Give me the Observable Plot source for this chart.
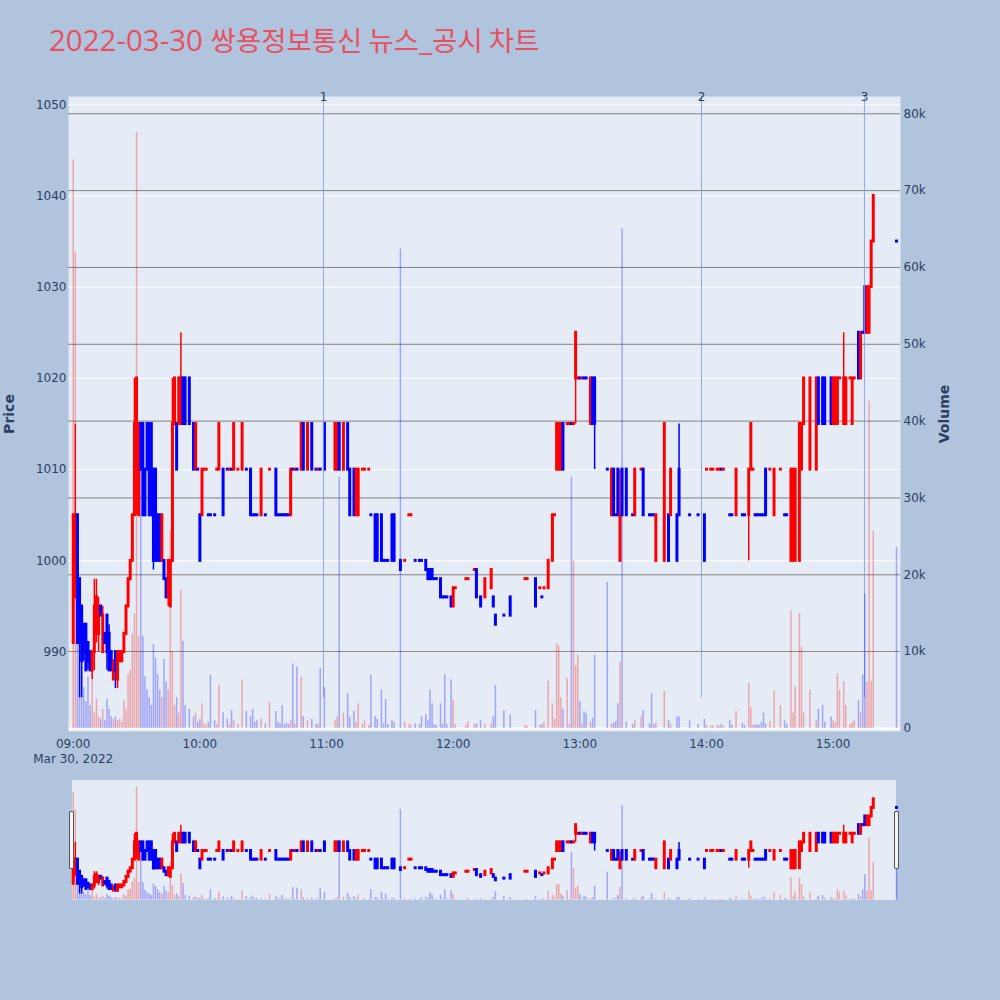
<!DOCTYPE html>
<html>
<head>
<meta charset="utf-8">
<script src="https://cdn.jsdelivr.net/npm/d3@7"></script>
<script src="https://cdn.jsdelivr.net/npm/@observablehq/plot@0.6"></script>
<style>
html, body { margin: 0; padding: 0; background: #b0c4de; width: 1000px; height: 1000px; overflow: hidden; }
#wrap { position: relative; width: 1000px; height: 1000px; }
.layer { position: absolute; left: 0; }
.layer svg { display: block; }
#title { position: absolute; left: 49px; top: 19px; line-height: 40px; font-family: "Open Sans", sans-serif; font-size: 29.5px; color: #e9505f; white-space: nowrap; }
#title .ko { font-family: "Noto Sans CJK KR", sans-serif; font-size: 27.5px; }
.sliderbg { position: absolute; left: 72px; top: 780px; width: 824px; height: 120px; background: #e5ecf6; }
.handle { position: absolute; top: 811px; width: 5px; height: 58px; background: #f4f4f4; border: 1px solid #555; border-radius: 1px; box-sizing: border-box; }
</style>
</head>
<body>
<div id="wrap">
  <div id="title"><span>2022-03-30</span> <span class="ko">쌍용정보통신 뉴스</span><span>_</span><span class="ko">공시 차트</span></div>
</div>
<script>
// ---- data: [minute of hour, open, high, low, close, volume, (flat candle: 1 = up colour, 0 = down colour)]
const h09 = [
[0,991,1005,991,1005,74000],[1,996,1015,996,1005,62000],[2,1005,1005,991,991,12000],[3,998,998,985,991,8400],
[4,995,995,985,989,8000],[5,993,993,989,990,5300],[6,993,993,988,988,3500],[7,991,991,988,989,6700],
[8,990,990,988,988,3000],[9,988,990,987,990,7000],[10,990,998,988,995,2000],[11,992,998,991,996,3800],
[12,992,996,990,995,1500],[13,995,995,994,994,1200],[14,990,995,990,994,2500],[15,992,992,991,991,1000],
[16,994,994,988,990,3800],[17,992,993,988,988,2500],[18,990,990,988,988,1500],[19,987,989,987,989,1200],
[20,990,990,986,988,1500],[21,987,990,986,990,1000],[22,989,990,989,990,1200],[23,989,990,989,990,800],
[24,990,992,990,992,3600],[25,992,995,992,995,2500],[26,995,998,995,998,7000],[27,998,1000,998,1000,7500],
[28,1000,1005,1000,1005,12300],[29,1005,1020,1005,1015,14900],[30,1010,1020,1005,1020,77600],[31,1005,1015,1005,1015,12000],
[32,1015,1015,1010,1010,38000],[33,1015,1015,1005,1005,12000],[34,1010,1010,1005,1005,6700],[35,1015,1015,1010,1010,5000],
[36,1015,1015,1005,1005,4000],[37,1015,1015,1005,1005,3000],[38,1010,1010,999,1000,10900],[39,1010,1010,1000,1000,9100],
[40,1005,1005,1000,1000,7000],[41,1005,1005,1000,1000,5000],[42,1000,1005,1000,1005,4000],[43,1000,1000,998,998,9000],
[44,998,998,996,996,6000],[45,996,1000,995,1000,5000],[46,995,1000,995,1000,25700],[47,1000,1020,1000,1015,10000],
[48,1015,1020,1015,1020,3000],[49,1015,1015,1010,1010,4000],[50,1015,1020,1015,1020,2000],[51,1015,1025,1015,1020,18000],
[52,1020,1020,1015,1015,11300],[53,1020,1020,1015,1015,3000],[55,1020,1020,1015,1015,2500],[57,1015,1015,1010,1010,1500],
[58,1010,1015,1010,1015,2000],[59,1010,1010,1010,1010,800,0]
];
const h10 = [
[0,1005,1005,1000,1000,1200],[1,1005,1010,1005,1010,3200],[2,1010,1010,1010,1010,600,1],[3,1010,1010,1010,1010,400,1],
[4,1005,1005,1005,1005,800,0],[5,1005,1005,1005,1005,6900,0],[7,1005,1005,1005,1005,1000,0],[8,1010,1010,1010,1010,500,1],
[9,1010,1015,1010,1015,5600],[11,1010,1010,1005,1005,2000],[13,1010,1010,1010,1010,1200,0],[14,1010,1010,1010,1010,500,1],
[15,1010,1010,1010,1010,2300,0],[16,1010,1015,1010,1015,1000],[18,1010,1010,1010,1010,500,1],[20,1010,1015,1010,1015,6300],
[22,1010,1010,1010,1010,2200,0],[24,1010,1010,1005,1005,1500],[25,1005,1005,1005,1005,2500,0],[26,1005,1005,1005,1005,800,0],
[27,1005,1005,1005,1005,1000,0],[29,1005,1010,1005,1010,1200],[31,1005,1005,1005,1005,600,0],[33,1010,1010,1010,1010,3400,1],
[36,1010,1010,1005,1005,2200],[37,1005,1005,1005,1005,800,0],[38,1005,1005,1005,1005,600,0],[39,1005,1005,1005,1005,3000,0],
[40,1005,1005,1005,1005,500,0],[41,1005,1005,1005,1005,700,0],[42,1005,1005,1005,1005,500,0],[43,1005,1010,1005,1010,1000],
[44,1010,1010,1010,1010,8400,0],[45,1010,1010,1010,1010,600,1],[46,1010,1010,1010,1010,8000,0],[48,1010,1015,1010,1015,6700],
[49,1015,1015,1010,1010,1500],[51,1010,1015,1010,1015,1000],[53,1015,1015,1010,1010,1200],[55,1010,1010,1010,1010,500,0],
[56,1010,1010,1010,1010,600,1],[57,1010,1010,1010,1010,7800,0],[59,1015,1015,1010,1010,5300]
];
const h11 = [
[4,1010,1015,1010,1015,1000],[5,1010,1015,1010,1015,1500],[6,1015,1015,1010,1010,32700],[8,1010,1015,1010,1015,2000],
[10,1015,1015,1010,1010,4500],[11,1010,1010,1005,1005,1500],[13,1010,1010,1005,1005,2200],[14,1005,1010,1005,1010,800],
[15,1005,1010,1005,1010,3200],[17,1010,1010,1010,1010,500,1],[18,1010,1010,1010,1010,1000,1],[20,1010,1010,1010,1010,400,1],
[21,1005,1005,1005,1005,7000,0],[23,1005,1005,1000,1000,1500],[24,1005,1005,1000,1000,1200],[26,1005,1005,1000,1000,5000],
[27,1000,1000,1000,1000,600,0],[28,1000,1000,1000,1000,3800,0],[29,1000,1000,1000,1000,500,0],[31,1005,1005,1000,1000,1000],
[32,1005,1005,1000,1000,800],[35,1000,1000,999,999,62400],[37,1000,1000,1000,1000,800,1],[39,1005,1005,1005,1005,500,1],
[40,1005,1005,1005,1005,400,1],[42,1000,1000,1000,1000,600,0],[44,1000,1000,1000,1000,500,0],[45,1000,1000,1000,1000,1500,0],
[47,1000,1000,999,999,1800],[48,999,999,998,998,1000],[49,999,999,998,998,5000],[50,999,999,998,998,3200],
[51,998,998,998,998,500,0],[52,998,998,998,998,400,0],[54,998,998,996,996,3200],[55,996,996,996,996,600,0],
[56,996,996,996,996,7000,0],[57,996,996,996,996,500,0],[59,996,996,995,995,6300]
];
const h12 = [
[0,995,997,995,997,3700],[1,997,997,997,997,500,1],[6,998,998,998,998,400,1],[7,998,998,998,998,900,1],
[10,999,999,999,999,500,1],[11,999,999,996,996,600],[13,996,996,995,995,1000],[15,996,998,996,998,500],
[18,997,999,997,999,600],[19,996,996,995,995,1500],[20,994,994,993,993,5600],[24,994,994,994,994,2300,0],
[27,996,996,994,994,1700],[34,998,998,998,998,400,1],[35,998,998,998,998,300,1],[39,998,998,995,995,2300],
[41,997,997,997,997,400,1],[42,996,996,996,996,500,0],[43,997,997,997,997,800,1],[45,997,1000,997,1000,6200],
[47,1000,1005,1000,1005,3200],[48,1005,1005,1005,1005,1200,1],[49,1010,1015,1010,1015,11000],[50,1010,1015,1010,1015,10700],
[51,1010,1015,1010,1015,4000],[52,1015,1015,1010,1010,2500],[54,1015,1015,1015,1015,6500,1],[55,1015,1015,1015,1015,500,1],
[56,1015,1015,1015,1015,32700,0],[57,1015,1015,1015,1015,21800,1],[58,1020,1025,1015,1025,8200],[59,1020,1020,1020,1020,9500,1]
];
const h13 = [
[0,1020,1020,1020,1020,3500,0],[1,1020,1020,1020,1020,600,1],[2,1020,1020,1020,1020,2100,0],[3,1020,1020,1020,1020,1900,0],
[5,1015,1020,1015,1020,800],[6,1020,1020,1015,1015,1300],[7,1020,1020,1010,1015,9500],[13,1010,1010,1010,1010,19000,0],
[15,1005,1010,1005,1010,600],[16,1010,1010,1005,1005,700],[17,1005,1005,1005,1005,900,0],[18,1010,1010,1005,1005,3200],
[19,1000,1010,1000,1005,8600],[20,1010,1010,1005,1005,65000],[22,1010,1010,1005,1005,800],[25,1005,1005,1005,1005,500,0],
[26,1005,1010,1005,1010,1000],[29,1010,1010,1010,1010,1500,1],[30,1010,1010,1005,1005,2300],[33,1005,1005,1005,1005,600,0],
[34,1005,1005,1005,1005,4500,0],[35,1005,1005,1005,1005,500,0],[36,1000,1005,1000,1005,700],[40,1000,1015,1000,1015,4800],
[42,1005,1005,1000,1000,1000],[43,1005,1010,1005,1010,500],[46,1005,1005,1000,1000,1500],[47,1010,1015,1005,1005,1500],
[52,1005,1005,1005,1005,1000,0],[56,1005,1005,1005,1005,500,0],[59,1005,1005,1000,1000,1200]
];
const h14 = [
[0,1010,1010,1010,1010,400,1],[2,1010,1010,1010,1010,300,1],[3,1010,1010,1010,1010,300,1],[5,1010,1010,1010,1010,400,1],
[6,1010,1010,1010,1010,300,1],[7,1010,1010,1010,1010,500,0],[8,1010,1010,1010,1010,300,1],[11,1005,1005,1005,1005,1000,0],
[12,1005,1005,1005,1005,400,0],[14,1005,1010,1005,1010,2200],[17,1005,1005,1005,1005,700,0],[18,1005,1005,1005,1005,400,0],
[20,1005,1010,1000,1010,5900],[21,1010,1015,1010,1015,2700],[22,1010,1010,1010,1010,400,1],[23,1005,1005,1005,1005,400,0],
[24,1005,1005,1005,1005,500,0],[25,1005,1005,1005,1005,400,0],[26,1005,1005,1005,1005,800,0],[27,1005,1005,1005,1005,2000,0],
[28,1010,1010,1005,1005,600],[30,1010,1010,1010,1010,900,1],[32,1005,1010,1005,1010,4900],[35,1010,1010,1010,1010,3000,1],
[37,1005,1005,1005,1005,1000,0],[38,1005,1005,1005,1005,500,0],[40,1000,1010,1000,1010,15300],[41,1000,1010,1000,1010,2000],
[42,1000,1010,1000,1010,5400],[44,1000,1015,1000,1015,14900],[45,1010,1015,1010,1015,10600],[46,1015,1020,1015,1020,2000],
[49,1010,1020,1010,1020,5000],[52,1010,1020,1010,1020,1000],[53,1020,1020,1015,1015,2500],[55,1020,1020,1015,1015,3000],
[56,1020,1020,1015,1015,800],[59,1020,1020,1015,1015,1500]
];
const h15 = [
[0,1015,1020,1015,1020,1000],[1,1015,1020,1015,1020,700],[2,1015,1020,1015,1020,7100],[3,1020,1020,1020,1020,5000,1],
[5,1015,1025,1015,1020,6100],[6,1015,1020,1015,1020,3000],[8,1020,1020,1020,1020,500,1],[9,1015,1020,1015,1020,800],
[10,1020,1020,1020,1020,1000,1],[12,1025,1025,1020,1020,3600],[13,1020,1025,1020,1025,2000],[14,1025,1025,1025,1025,7000,0],
[15,1030,1030,1025,1025,17500],[16,1025,1030,1025,1030,6000],[17,1025,1030,1025,1030,42600],[18,1030,1035,1030,1035,6100],
[19,1035,1040,1035,1040,25700],[30,1035,1035,1035,1035,23600,0]
];
const hourBlocks = [[9, h09], [10, h10], [11, h11], [12, h12], [13, h13], [14, h14], [15, h15]];

const priceTicks = [990, 1000, 1010, 1020, 1030, 1040, 1050];
const volumeTicks = [0, 10000, 20000, 30000, 40000, 50000, 60000, 70000, 80000];
const timeTickLabels = ["09:00", "10:00", "11:00", "12:00", "13:00", "14:00", "15:00"];
const dateLabel = "Mar 30, 2022";
const newsTimes = ["10:58:34", "13:57:38", "15:14:50"];
const newsLabels = ["1", "2", "3"];

// axis ranges
const timeRange = ["08:57:46", "15:31:54"];
const priceRange = [981.3, 1050.9];
const volumeRange = [-400, 82250];

// ---- build
const at = (s) => { const [h, m, sec = 0] = s.split(":").map(Number); return new Date(Date.UTC(2022, 2, 30, h, m, sec)); };
const UP = "#ff0000", DOWN = "#0000ff";
const rows = hourBlocks.flatMap(([h, arr]) => arr.map(r => {
  const up = r[4] > r[1] || (r[4] === r[1] && r[6] === 1);
  return {t: new Date(Date.UTC(2022, 2, 30, h, r[0])), open: r[1], high: r[2], low: r[3], close: r[4], vol: r[5],
          lo: Math.min(r[1], r[4]), hi: Math.max(r[1], r[4]), color: up ? UP : DOWN};
}));
const xTicks = timeTickLabels.map(at);
const news = newsTimes.map((s, i) => ({t: at(s), label: newsLabels[i]}));
const minLow = d3.min(rows, d => d.low);

const wrap = document.getElementById("wrap");
const baseStyle = {background: "transparent", fontFamily: "'DejaVu Sans', Verdana, sans-serif", fontSize: "12px", color: "#2a3f5f", overflow: "visible"};
const mainM = {width: 1000, height: 770, marginLeft: 68, marginRight: 100, marginTop: 96, marginBottom: 39};
const sliderM = {width: 1000, height: 120, marginLeft: 68, marginRight: 100, marginTop: 0, marginBottom: 0};
const xOpt = {type: "utc", domain: timeRange.map(at)};

function layer(opts, top) {
  const el = Plot.plot({...opts, style: baseStyle, color: {type: "identity"}});
  const d = document.createElement("div");
  d.className = "layer";
  d.style.top = top + "px";
  d.append(el);
  wrap.append(d);
}

const candleMarks = () => [
  Plot.ruleX(rows, {x: "t", y1: "low", y2: "high", stroke: "color", strokeWidth: 1.5}),
  Plot.ruleX(rows, {x: "t", y1: "lo", y2: "hi", stroke: "color", strokeWidth: 3, strokeLinecap: "square"})
];
const volumeMarks = () => [
  Plot.ruleX(rows, {x: "t", y1: 0, y2: "vol", stroke: "color", strokeOpacity: 0.3, strokeWidth: 1.5})
];

// layer 1: background, price grid, left & bottom axes
layer({...mainM, x: xOpt, y: {domain: priceRange},
  marks: [
    Plot.frame({fill: "#e5ecf6", stroke: "none"}),
    Plot.gridY(priceTicks, {stroke: "#ffffff", strokeOpacity: 1, strokeWidth: 1}),
    Plot.axisY(priceTicks, {anchor: "left", tickSize: 0, tickPadding: 2, label: null, tickFormat: d => String(d)}),
    Plot.axisY({anchor: "left", ticks: [], label: "Price", labelAnchor: "center", labelArrow: "none", labelOffset: 64, fontWeight: "bold", fontSize: 14}),
    Plot.axisX(xTicks, {tickSize: 0, tickPadding: 5, label: null, lineHeight: 1.3,
      tickFormat: d => (+d === +xTicks[0] ? d3.utcFormat("%H:%M")(d) + "\n" + dateLabel : d3.utcFormat("%H:%M")(d))})
  ]}, 0);

// layer 2: volume grid and right axis
layer({...mainM, x: {...xOpt, axis: null}, y: {domain: volumeRange},
  marks: [
    Plot.gridY(volumeTicks.filter(v => v > 0), {stroke: "#808080", strokeOpacity: 1, strokeWidth: 1}),
    Plot.ruleY([0], {stroke: "#ffffff", strokeWidth: 2}),
    Plot.axisY(volumeTicks, {anchor: "right", tickSize: 0, tickPadding: 3, label: null,
      tickFormat: v => v === 0 ? "0" : (v / 1000) + "k"}),
    Plot.axisY({anchor: "right", ticks: [], label: "Volume", labelAnchor: "center", labelArrow: "none", labelOffset: 48, fontWeight: "bold", fontSize: 14})
  ]}, 0);

// layer 3: candles + news markers
layer({...mainM, x: {...xOpt, axis: null}, y: {domain: priceRange, axis: null},
  marks: [
    ...candleMarks(),
    Plot.ruleX(news, {x: "t", y1: minLow, y2: priceRange[1], stroke: "#7f9cf0", strokeOpacity: 0.85, strokeWidth: 1}),
    Plot.text(news, {x: "t", text: "label", frameAnchor: "top", lineAnchor: "middle", dy: 1, fill: "#2a3f5f", fontSize: 12})
  ]}, 0);

// layer 4: volume bars
layer({...mainM, x: {...xOpt, axis: null}, y: {domain: volumeRange, axis: null},
  marks: volumeMarks()}, 0);

// range slider
const bg = document.createElement("div"); bg.className = "sliderbg"; wrap.append(bg);
layer({...sliderM, x: {...xOpt, axis: null}, y: {domain: priceRange, axis: null}, marks: candleMarks()}, 780);
layer({...sliderM, x: {...xOpt, axis: null}, y: {domain: volumeRange, axis: null}, marks: volumeMarks()}, 780);
for (const left of [69, 894]) {
  const h = document.createElement("div"); h.className = "handle"; h.style.left = left + "px"; wrap.append(h);
}
</script>
</body>
</html>
